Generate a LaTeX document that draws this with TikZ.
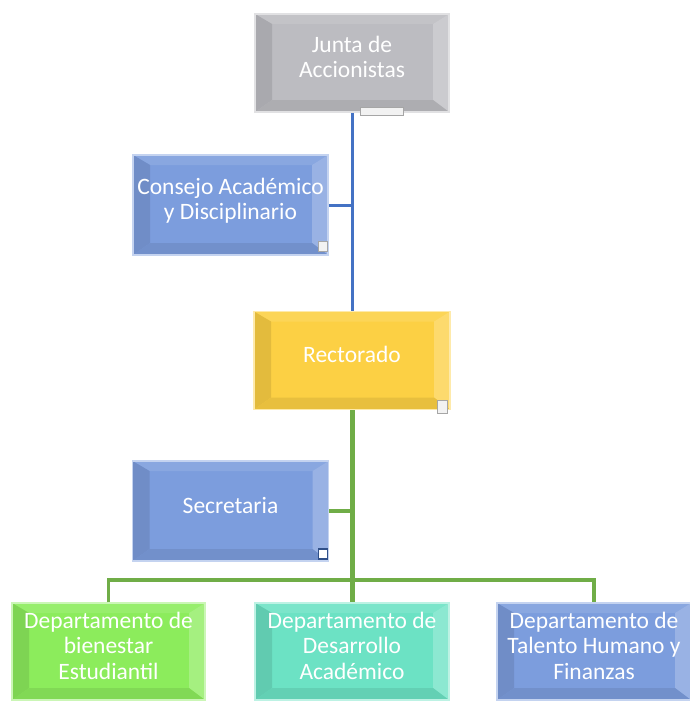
\documentclass[tikz,border=0pt]{standalone}
\usepackage{fontspec}
\setmainfont{Carlito}
\usetikzlibrary{calc}

\definecolor{juntagray}{RGB}{188,188,193}
\definecolor{boxblue}{RGB}{124,157,221}
\definecolor{rectoryellow}{RGB}{252,208,68}
\definecolor{bienestargreen}{RGB}{140,236,92}
\definecolor{desarrolloteal}{RGB}{108,226,196}
\definecolor{lineblue}{RGB}{68,114,196}
\definecolor{linegreen}{RGB}{112,173,71}

\newcommand\boxfont{\fontsize{23.5pt}{25.5pt}\selectfont}
\newcommand\bevelfaces[1]{%
  \coordinate (pnw) at (path picture bounding box.north west);
  \coordinate (pne) at (path picture bounding box.north east);
  \coordinate (psw) at (path picture bounding box.south west);
  \coordinate (pse) at (path picture bounding box.south east);
  \coordinate (inw) at ($(pnw)+(17pt,-10pt)$);
  \coordinate (ine) at ($(pne)+(-16pt,-10pt)$);
  \coordinate (isw) at ($(psw)+(17pt,12pt)$);
  \coordinate (ise) at ($(pse)+(-16pt,12pt)$);
  \fill[#1!90!white] (pnw) -- (pne) -- (ine) -- (inw) -- cycle; % top
  \fill[#1!90!black] (pnw) -- (inw) -- (isw) -- (psw) -- cycle; % left
  \fill[#1!78!white] (pne) -- (ine) -- (ise) -- (pse) -- cycle; % right
  \fill[#1!92!black] (psw) -- (isw) -- (ise) -- (pse) -- cycle; % bottom
}

\tikzset{
  orgbox/.style={rectangle, minimum width=194pt, minimum height=98pt, inner sep=0pt,
    fill=#1, draw=#1!45!white, line width=1.5pt, text=white, align=center,
    font=\boxfont, text depth=12pt, path picture={\bevelfaces{#1}}},
  tag/.style={fill=gray!10, draw=gray!70, line width=0.8pt},
  blueline/.style={draw=lineblue, line width=3pt},
  greenline/.style={draw=linegreen, line width=3.5pt}
}

\begin{document}
\begin{tikzpicture}[x=1pt,y=-1pt]
\useasboundingbox (0,0) rectangle (689,701);
\node[orgbox=juntagray] (junta) at (352,63) {Junta de\\Accionistas};
\node[orgbox=boxblue, minimum height=100pt, minimum width=195pt] (consejo) at (230.5,205) {Consejo Académico\\y Disciplinario};
\node[orgbox=rectoryellow, minimum width=196pt] (rector) at (352,360.5) {Rectorado};
\node[orgbox=boxblue, minimum height=100pt, minimum width=196pt] (secre) at (230.5,511) {Secretaria};
\node[orgbox=bienestargreen, minimum height=97pt, minimum width=193pt] (bien) at (108.5,651.5) {Departamento de\\bienestar\\Estudiantil};
\node[orgbox=desarrolloteal, minimum height=97pt] (desa) at (352,651.5) {Departamento de\\Desarrollo\\Académico};
\node[orgbox=boxblue, minimum height=97pt] (tal) at (594,651.5) {Departamento de\\Talento Humano y\\Finanzas}; % departments
\draw[blueline] (junta.south) -- (rector.north);
\draw[blueline] (consejo.east) -- (consejo.east -| junta.south);
\draw[greenline, line width=5pt] (rector.south) -- (desa.north);
\draw[greenline] (secre.east) -- (secre.east -| rector.south);
\coordinate (bus) at (352,580);
\draw[greenline] (bien.north) |- (bus) -| (tal.north); % branches
\draw[tag] ([shift={(8pt,-3pt)}]junta.south) rectangle ++(43pt,8pt);
\draw[tag] ([shift={(-10pt,4pt)}]consejo.south east) rectangle ++(9pt,10pt);
\draw[tag] ([shift={(-13pt,-3pt)}]rector.south east) rectangle ++(10pt,13pt);
\draw[tag, fill=white, draw=lineblue!70!black, line width=1.5pt] ([shift={(-11pt,3pt)}]secre.south east) rectangle ++(9pt,10pt); % small marks
\end{tikzpicture}
\end{document}
